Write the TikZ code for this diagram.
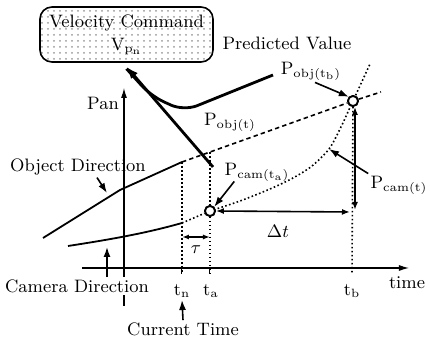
\documentclass[tikz,border=0pt]{standalone}
\usepackage{amsmath}
\usetikzlibrary{arrows.meta, positioning, patterns}

\tikzset{
  lbl/.style={font=\fontsize{9}{11.5}\selectfont, inner sep=1pt},
  ptr/.style={-{Latex[length=5pt,width=3.5pt]}, line width=0.8pt},
  axis/.style={-{Latex[length=5pt,width=3pt]}, line width=0.55pt},
  guide/.style={line width=0.8pt, dash pattern=on 0.8pt off 1.2pt},
  predline/.style={line width=0.8pt, dash pattern=on 2.2pt off 1.6pt},
  track/.style={line width=0.9pt},
  velo/.style={line width=1.4pt},
  ringmark/.style={circle, draw, fill=white, line width=0.9pt, minimum size=5pt, inner sep=0pt},
}

\begin{document}
\begin{tikzpicture}[x=0.5pt, y=-0.5pt]
  \useasboundingbox (0,0) rectangle (430,341);

  % command box
  \node[lbl, draw, line width=0.8pt, rounded corners=6pt, pattern=dots, pattern color=black!40,
        minimum width=86.5pt, minimum height=27.5pt, align=center] (cmd) at (126.5,34.5)
        {Velocity Command\\V$_{\mathrm{p}_{\mathrm{n}}}$};

  % axes
  \coordinate (panbot) at (124,306);
  \coordinate (pantop) at (124,88);
  \coordinate (t0) at (82,268);
  \coordinate (t1) at (409,268);
  \draw[axis] (panbot) -- (pantop);
  \draw[axis] (t0) -- (t1);
  \node[lbl] (pan) at (103,103) {Pan};
  \node[lbl] (time) at (407,283) {time};

  % time marks
  \node[lbl] (tn) at (182,291) {t$_\mathrm{n}$};
  \node[lbl] (ta) at (211,291) {t$_\mathrm{a}$};
  \node[lbl] (tb) at (352,291) {t$_\mathrm{b}$};
  \node[lbl] (curtime) at (183,329) {Current Time};
  \draw[ptr] (curtime.north) -- (tn.south);

  % object and camera tracks
  \coordinate (ostart) at (43,238);
  \coordinate (okink) at (120,190);
  \coordinate (oend) at (182,162);
  \coordinate (cstart) at (68,246);
  \coordinate (cend) at (182,223);
  \draw[track] (ostart) -- (okink) -- (oend);
  \draw[track] (cstart) .. controls (120,238) and (150,232) .. (cend);

  \node[ringmark] (pa) at (210,211) {};
  \node[ringmark] (pb) at (353,101) {};
  \coordinate (oext) at (381,92);
  \coordinate (cpt) at (329,149);

  % predictions
  \draw[predline] (oend) -- (pb) -- (oext);
  \draw[guide] (cend) -- (pa);
  \draw[guide] plot[smooth] coordinates {(pa) (240,201) (270,189) (293,178) (312,166) (cpt) (340,129) (pb) (370,64)};
  \draw[guide] (oend) -- (182,273);
  \draw[guide] (210,152) -- (pa) -- (210,273);
  \draw[guide] (pb) -- (352,273);
  \draw[line width=0.5pt] (182,268) -- (182,274) (210,268) -- (210,274);
  \node[ringmark] at (pa) {};
  \node[ringmark] at (pb) {};

  % intervals
  \draw[{Latex[length=4pt,width=3pt]}-{Latex[length=4pt,width=3pt]}, line width=0.8pt] (pa.east) -- (350,212);
  \draw[{Latex[length=3.5pt,width=2.5pt]}-{Latex[length=3.5pt,width=2.5pt]}, line width=0.7pt] (182,237) -- (210,237);
  \draw[{Latex[length=4pt,width=3pt]}-{Latex[length=4pt,width=3pt]}, line width=0.8pt] ([xshift=1pt]pb.south) -- (355,210);
  \node[lbl] (dlt) at (278,231) {$\Delta t$};
  \node[lbl] (tau) at (196,250) {$\tau$};

  % labels
  \node[lbl] (pred) at (287,43) {Predicted Value};
  \node[lbl] (pobjb) at (311,71) {P$_{\mathrm{obj(t_b)}}$};
  \node[lbl] (pobjt) at (230,122) {P$_{\mathrm{obj(t)}}$};
  \node[lbl] (pcama) at (257,172) {P$_{\mathrm{cam(t_a)}}$};
  \node[lbl] (pcamt) at (399,185) {P$_{\mathrm{cam(t)}}$};
  \node[lbl] (objdir) at (78,167) {Object Direction};
  \node[lbl, fill=white] (camdir) at (77,286) {Camera Direction};

  \draw[ptr] ([xshift=9.5pt]objdir.south) -- (107,193);
  \draw[ptr] ([xshift=15pt]camdir.north) -- (107,247);
  \draw[ptr] ([xshift=6pt,yshift=1pt]pcama.south west) -- (pa.north east);
  \draw[ptr] (pcamt.north west) -- (cpt);
  \draw[ptr] ([xshift=2pt]pobjb.south) -- (pb.north west);

  % velocity command
  \coordinate (vstart) at (213,167);
  \coordinate (pvend) at (273,75);
  \draw[velo, -{Latex[length=6pt,width=4.5pt,open]}] (vstart) -- ([yshift=-2pt]cmd.south);
  \draw[velo, rounded corners=7pt] (pvend) -- (184,111) -- (151,96) -- ([yshift=-3pt]cmd.south);
\end{tikzpicture}
\end{document}
